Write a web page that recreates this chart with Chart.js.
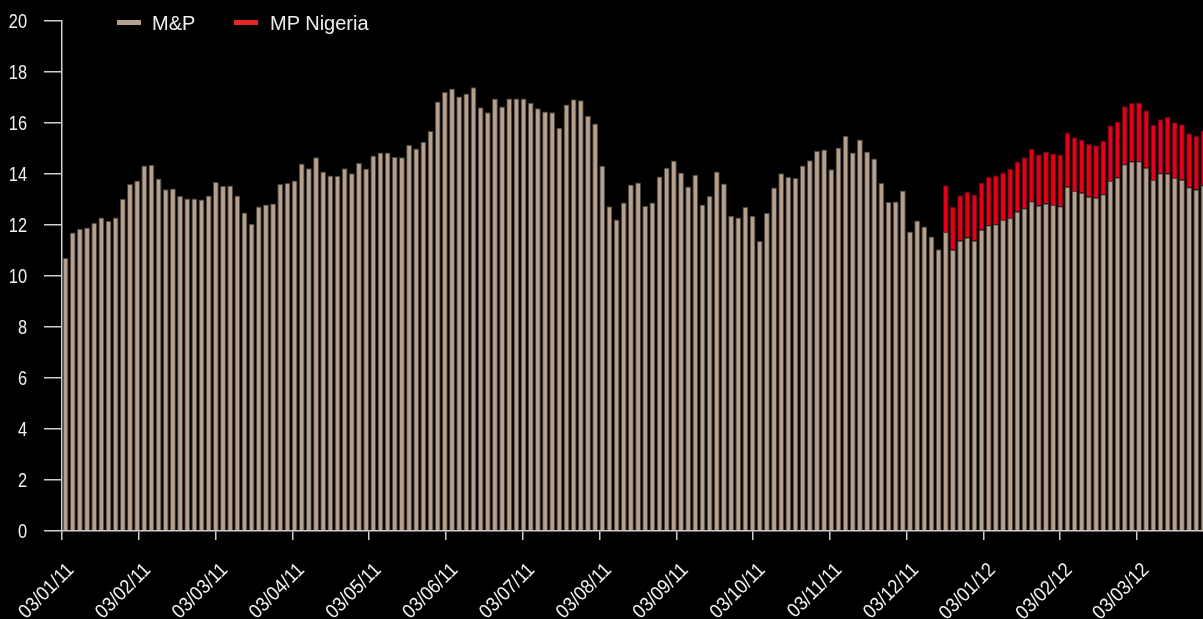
<!DOCTYPE html>
<html>
<head>
<meta charset="utf-8">
<title>M&amp;P / MP Nigeria</title>
<script src="https://cdn.jsdelivr.net/npm/chart.js@4/dist/chart.umd.min.js"></script>
<style>
  html, body { margin: 0; padding: 0; background: #000; overflow: hidden; }
  #wrap { position: relative; width: 1207px; height: 619px; }
  .key { position: absolute; top: 12px; height: 20px; line-height: 20px;
         font: 20px "Liberation Sans", Arial, sans-serif; color: #eeeeee; white-space: nowrap; }
  .key i { position: absolute; left: 0; top: 8px; width: 24px; height: 5px; }
  .key span { position: absolute; left: 35px; }
</style>
</head>
<body>
<div id="wrap">
  <canvas id="chart" width="1207" height="619"></canvas>
  <div class="key" style="left:117px"><i style="background:#b4a08d"></i><span>M&amp;P</span></div>
  <div class="key" style="left:234px"><i style="background:#e6262b"></i><span style="left:36px">MP Nigeria</span></div>
</div>
<script>
// month ticks along the bottom axis
const tick_labels = [
  "03/01/11", "03/02/11", "03/03/11", "03/04/11", "03/05/11", "03/06/11", "03/07/11", "03/08/11",
  "03/09/11", "03/10/11", "03/11/11", "03/12/11", "03/01/12", "03/02/12", "03/03/12",
];
const y_ticks = [0, 2, 4, 6, 8, 10, 12, 14, 16, 18, 20];

// M&P, one value per bar (160 bars, the last one cut by the frame)
const mp_values = [
  10.71, 11.71, 11.85, 11.90, 12.09, 12.29, 12.16, 12.29, 13.03, 13.61,
  13.75, 14.33, 14.36, 13.82, 13.40, 13.43, 13.14, 13.04, 13.04, 13.00,
  13.16, 13.69, 13.54, 13.55, 13.16, 12.49, 12.05, 12.73, 12.80, 12.84,
  13.61, 13.65, 13.75, 14.41, 14.23, 14.66, 14.10, 13.94, 13.93, 14.23,
  14.03, 14.44, 14.22, 14.73, 14.84, 14.84, 14.67, 14.66, 15.14, 15.00,
  15.26, 15.69, 16.84, 17.22, 17.35, 17.04, 17.16, 17.40, 16.62, 16.42,
  16.96, 16.65, 16.96, 16.96, 16.96, 16.79, 16.58, 16.45, 16.42, 15.81,
  16.73, 16.93, 16.89, 16.28, 15.98, 14.32, 12.74, 12.22, 12.88, 13.59,
  13.67, 12.75, 12.88, 13.90, 14.25, 14.53, 14.06, 13.51, 13.97, 12.80,
  13.14, 14.10, 13.63, 12.36, 12.29, 12.71, 12.36, 11.37, 12.48, 13.47,
  14.03, 13.88, 13.84, 14.33, 14.54, 14.91, 14.96, 14.19, 15.04, 15.50,
  14.84, 15.35, 14.88, 14.61, 13.65, 12.90, 12.92, 13.35, 11.75, 12.18,
  11.94, 11.55, 11.05, 11.73, 11.03, 11.39, 11.51, 11.39, 11.81, 11.99,
  12.03, 12.20, 12.27, 12.53, 12.66, 12.93, 12.76, 12.84, 12.78, 12.74,
  13.50, 13.33, 13.26, 13.11, 13.07, 13.21, 13.73, 13.86, 14.38, 14.49,
  14.50, 14.25, 13.76, 14.03, 14.02, 13.84, 13.77, 13.48, 13.39, 13.56,
];

// MP Nigeria, stacked on top, only from bar 124 onwards
const nigeria_start = 123;
const nigeria_values = [
  1.83, 1.70, 1.78, 1.80, 1.81, 1.86, 1.90, 1.91, 1.86, 1.95,
  1.96, 2.00, 2.06, 2.00, 2.03, 2.02, 2.02, 2.13, 2.11, 2.09,
  2.07, 2.06, 2.08, 2.18, 2.20, 2.28, 2.29, 2.30, 2.25, 2.17,
  2.12, 2.23, 2.19, 2.18, 2.12, 2.11, 2.15,
];

const axis_color = "#d0d0d0";
const text_color = "#f0f0f0";
const label_font = "20px 'Liberation Sans', Arial, sans-serif";
const narrow_y = 0.82;      // tick labels are set in a condensed face
const narrow_x = 0.9;
const bars_per_month = 10.73;
const chart_left = 62;

const bars = mp_values.map((_, i) => i);
const nigeria_full = bars.map((i) => i < nigeria_start ? null : nigeria_values[i - nigeria_start]);

// draws the tick labels horizontally squeezed, at the positions of the chart's own ticks
const narrow_labels = {
  id: "narrow_labels",
  afterDraw(chart) {
    const {ctx, scales: {x, y}} = chart;
    ctx.save();
    ctx.fillStyle = text_color;
    ctx.font = label_font;
    ctx.textAlign = "right";
    ctx.textBaseline = "middle";

    for (const tick of y.ticks) {
      ctx.save();
      ctx.translate(y.right - 35, y.getPixelForValue(tick.value) + 1);
      ctx.scale(narrow_y, 1);
      ctx.fillText(String(tick.value), 0, 0);
      ctx.restore();
    }

    x.ticks.forEach((tick, k) => {
      ctx.save();
      ctx.translate(x.getPixelForValue(tick.value) + 9, x.top + 36);
      ctx.rotate(-Math.PI / 4);
      ctx.scale(narrow_x, 1);
      ctx.fillText(tick_labels[k], 0, 0);
      ctx.restore();
    });
    ctx.restore();
  },
};

new Chart(document.getElementById("chart"), {
  type: "bar",
  data: {
    labels: bars,
    datasets: [
      {
        label: "M&P",
        data: mp_values,
        backgroundColor: "#b4a08d",
        borderColor: "#4a4039",
        borderWidth: 1,
      },
      {
        label: "MP Nigeria",
        data: nigeria_full,
        backgroundColor: "#e2001a",
        borderColor: "#5c0a10",
        borderWidth: 1,
      },
    ],
  },
  options: {
    responsive: false,
    animation: false,
    devicePixelRatio: 1,
    layout: {padding: {top: 21, right: 0, left: 0, bottom: 0}},
    datasets: {bar: {categoryPercentage: 1, barPercentage: 0.82}},
    plugins: {
      legend: {display: false},
      tooltip: {enabled: false},
    },
    scales: {
      x: {
        type: "linear",
        stacked: true,
        offset: false,
        min: -0.5,
        max: bars.length - 0.5,
        afterBuildTicks: (scale) => {
          scale.ticks = tick_labels.map((_, k) => ({value: -0.5 + k * bars_per_month}));
        },
        afterFit: (scale) => { scale.height = 88; },
        ticks: {display: false},
        grid: {offset: false, drawOnChartArea: false, tickLength: 9, color: axis_color, lineWidth: 1.5},
        border: {color: axis_color, width: 1.5},
      },
      y: {
        min: 0,
        max: 20,
        stacked: true,
        afterBuildTicks: (scale) => {
          scale.ticks = y_ticks.map((value) => ({value}));
        },
        afterFit: (scale) => { scale.width = chart_left; },
        ticks: {display: false},
        grid: {drawOnChartArea: false, tickLength: 18, color: axis_color, lineWidth: 1.5},
        border: {color: axis_color, width: 1.5},
      },
    },
  },
  plugins: [narrow_labels],
});
</script>
</body>
</html>
